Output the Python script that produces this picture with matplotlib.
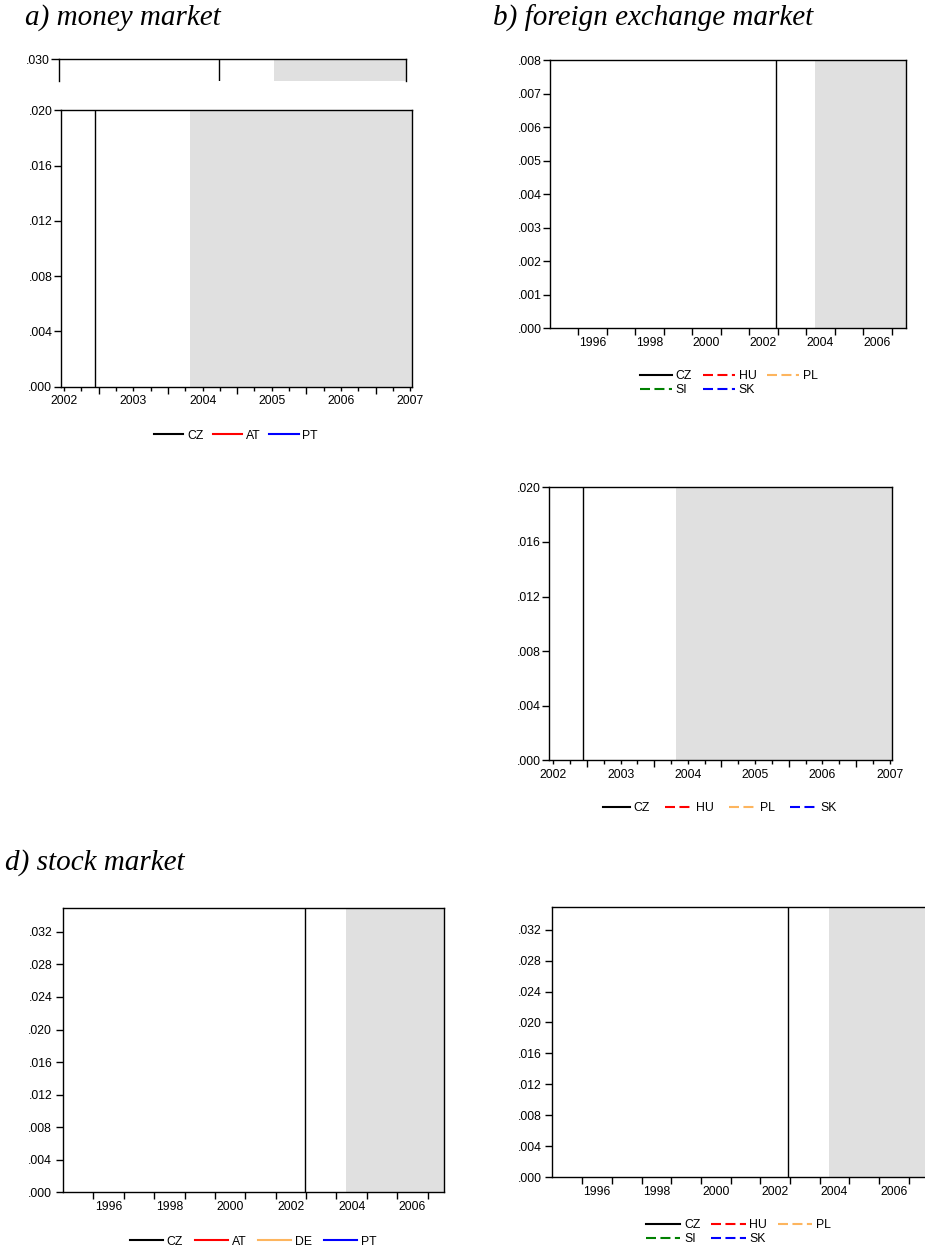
import matplotlib
matplotlib.use("Agg")
import matplotlib.pyplot as plt
from matplotlib.ticker import FixedLocator, FixedFormatter, NullFormatter, NullLocator

# ---------------- data ----------------
titles = ["a) money market", "b) foreign exchange market", "d) stock market"]

series_a = ["CZ", "AT", "PT"]
series_b = ["CZ", "HU", "PL", "SI", "SK"]
series_c = ["CZ", "HU", "PL", "SK"]
series_d = ["CZ", "AT", "DE", "PT"]
series_e = ["CZ", "HU", "PL", "SI", "SK"]

# the plotted series carry no visible values in the reference (empty)
series_values = {}

colors = {"CZ": "#000000", "AT": "#ff0000", "PT": "#0000ff", "DE": "#fdb55e",
          "HU": "#ff0000", "PL": "#fdb55e", "SI": "#008000", "SK": "#0000ff"}

# long sample (1995-2007) x axis
long_year_ticks = list(range(1996, 2008))
long_label_pos = [1996.5, 1998.5, 2000.5, 2002.5, 2004.5, 2006.5]
long_labels = ["1996", "1998", "2000", "2002", "2004", "2006"]
# short sample (2002-2007) x axis
short_quarter_ticks = [2002 + q / 4 for q in range(0, 21)]
short_half_ticks = [2002.5, 2003.5, 2004.5, 2005.5, 2006.5]
short_labels = ["2002", "2003", "2004", "2005", "2006", "2007"]

# event markers: vertical line and shaded period
vline_long = 2002.95
shade_long_start = 2004.32
vline_short = 2002.44
shade_short_start = 2003.82
vline_top = 2000.8
shade_top_start = 2002.78

yticks_a = [0.000, 0.004, 0.008, 0.012, 0.016, 0.020]
ylabels_a = [".000", ".004", ".008", ".012", ".016", ".020"]
yticks_b = [0.000, 0.001, 0.002, 0.003, 0.004, 0.005, 0.006, 0.007, 0.008]
ylabels_b = [".000", ".001", ".002", ".003", ".004", ".005", ".006", ".007", ".008"]
yticks_d = [0.000, 0.004, 0.008, 0.012, 0.016, 0.020, 0.024, 0.028, 0.032]
ylabels_d = [".000", ".004", ".008", ".012", ".016", ".020", ".024", ".028", ".032"]

# ---------------- figure ----------------
W, H = 925, 1253
plt.rcParams["font.family"] = ["Liberation Sans", "DejaVu Sans"]
plt.rcParams["lines.scale_dashes"] = False
fig = plt.figure(figsize=(W / 100, H / 100), dpi=100)

FS = 8.8
SHADE = "#e0e0e0"
LW = 1.0


def box(l, t, r, b):
    return [l / W, 1 - b / H, (r - l) / W, (b - t) / H]


def base_axes(rect, xlim, ylim, yticks, ylabels, ypad=1.0):
    ax = fig.add_axes(box(*rect))
    ax.set_xlim(*xlim)
    ax.set_ylim(*ylim)
    for s in ax.spines.values():
        s.set_linewidth(LW)
    ax.set_yticks(yticks)
    ax.set_yticklabels(ylabels)
    ax.tick_params(axis="y", direction="out", length=5, width=LW, pad=ypad,
                   labelsize=FS)
    return ax


def long_xaxis(ax):
    ax.xaxis.set_major_locator(FixedLocator(long_year_ticks))
    ax.xaxis.set_major_formatter(NullFormatter())
    ax.xaxis.set_minor_locator(FixedLocator(long_label_pos))
    ax.xaxis.set_minor_formatter(FixedFormatter(long_labels))
    ax.tick_params(axis="x", which="major", direction="out", length=5, width=LW)
    ax.tick_params(axis="x", which="minor", length=0, pad=6.2, labelsize=FS)


def short_xaxis(ax):
    ax.xaxis.set_major_locator(FixedLocator(short_half_ticks))
    ax.xaxis.set_major_formatter(NullFormatter())
    other = [q for q in short_quarter_ticks if q not in short_half_ticks]
    ax.xaxis.set_minor_locator(FixedLocator(other))
    labs = [short_labels[int(q - 2002)] if q == int(q) else "" for q in other]
    ax.xaxis.set_minor_formatter(FixedFormatter(labs))
    ax.tick_params(axis="x", which="major", direction="out", length=5, width=LW)
    ax.tick_params(axis="x", which="minor", direction="out", length=3, width=LW,
                   pad=3.3, labelsize=FS)


def events(ax, vx, s0):
    x1 = ax.get_xlim()[1]
    ax.axvspan(s0, x1, color=SHADE, lw=0, zorder=0)
    ax.axvline(vx, color="black", lw=LW, zorder=2)


def add_series(ax, names, dashed):
    handles = {}
    for n in names:
        vals = series_values.get(n, [])
        ls = "-" if (n == "CZ" or not dashed) else (0, (7.2, 3.2))
        (h,) = ax.plot([], vals, color=colors[n], lw=1.5, linestyle=ls, label=n)
        handles[n] = h
    return handles


def legend(ax, handles, order, ncol, cx, cy, hl, cs):
    hs = [handles[n] for n in order]
    fig.legend(hs, order, loc="center", bbox_to_anchor=(cx / W, 1 - cy / H),
               bbox_transform=fig.transFigure, ncol=ncol, frameon=False,
               fontsize=FS, handlelength=hl, handletextpad=0.3,
               columnspacing=cs, labelspacing=0.15, borderpad=0)


# --- top strip above panel a (clipped chart) ---
axt = fig.add_axes(box(59.3, 59.3, 405.7, 81))
axt.set_xlim(1995.0, 2007.55)
axt.set_ylim(0.0285, 0.030)
axt.spines["bottom"].set_visible(False)
for s in axt.spines.values():
    s.set_linewidth(LW)
axt.set_yticks([0.030])
axt.set_yticklabels([".030"])
axt.tick_params(axis="y", direction="out", length=6, width=LW, pad=1, labelsize=FS)
axt.xaxis.set_major_locator(NullLocator())
events(axt, vline_top, shade_top_start)

# --- panel a ---
ax_a = base_axes((60.7, 110.3, 412.3, 386.7), (2001.95, 2007.03), (0, 0.020),
                 yticks_a, ylabels_a)
short_xaxis(ax_a)
events(ax_a, vline_short, shade_short_start)
h = add_series(ax_a, series_a, False)
legend(ax_a, h, ["CZ", "AT", "PT"], 3, 236, 435.7, 2.4, 0.75)

# --- panel b ---
ax_b = base_axes((550.3, 60.3, 906.3, 328.3), (1995.02, 2007.51), (0, 0.008),
                 yticks_b, ylabels_b)
long_xaxis(ax_b)
events(ax_b, vline_long, shade_long_start)
h = add_series(ax_b, series_b, True)
legend(ax_b, h, ["CZ", "SI", "HU", "SK", "PL"], 3, 729, 383, 2.6, 0.9)

# --- panel c ---
ax_c = base_axes((549.3, 487.3, 892.3, 760.3), (2001.94, 2007.04), (0, 0.020),
                 yticks_a, ylabels_a)
short_xaxis(ax_c)
events(ax_c, vline_short, shade_short_start)
h = add_series(ax_c, series_c, True)
legend(ax_c, h, series_c, 4, 720, 808, 2.2, 1.25)

# --- panel d ---
ax_d = base_axes((63.3, 908.3, 444.3, 1192.3), (1995.01, 2007.55), (0, 0.0349),
                 yticks_d, ylabels_d, ypad=3)
long_xaxis(ax_d)
events(ax_d, vline_long, shade_long_start)
h = add_series(ax_d, series_d, False)
legend(ax_d, h, series_d, 4, 253, 1241.7, 2.7, 1.0)

# --- panel e ---
ax_e = base_axes((552.3, 907.3, 927.0, 1177.0), (1994.99, 2007.62), (0, 0.0349),
                 yticks_d, ylabels_d, ypad=2.5)
long_xaxis(ax_e)
events(ax_e, vline_long, shade_long_start)
h = add_series(ax_e, series_e, True)
legend(ax_e, h, ["CZ", "SI", "HU", "SK", "PL"], 3, 738.6, 1232, 2.8, 0.9)

# --- titles ---
tfont = dict(family=["Liberation Serif", "DejaVu Serif"], style="italic",
             fontsize=21, va="center", ha="left")
fig.text(25 / W, 1 - 18 / H, titles[0], **tfont)
fig.text(493 / W, 1 - 18 / H, titles[1], **tfont)
fig.text(5 / W, 1 - 863 / H, titles[2], **tfont)

fig.savefig("out.png", dpi=100)
